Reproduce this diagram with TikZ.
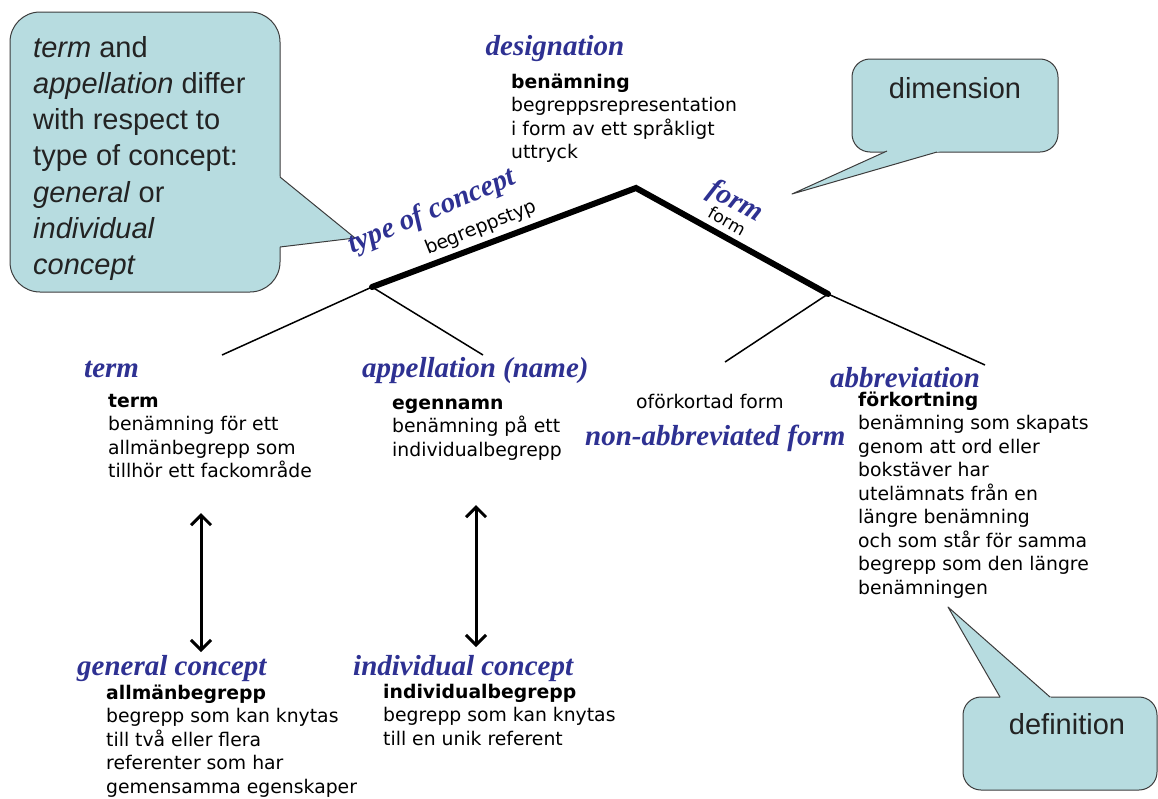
\documentclass[tikz,border=0pt]{standalone}
\usepackage{fontspec}
\usetikzlibrary{arrows.meta}
\newfontfamily\vfont{DejaVu Sans}
\newfontfamily\tfont{Liberation Serif}
\newfontfamily\afont{Liberation Sans}
\definecolor{tblue}{RGB}{46,49,146}
\definecolor{callfill}{RGB}{183,220,224}
\definecolor{callline}{RGB}{60,60,60}
\definecolor{calltxt}{RGB}{35,35,35}
\newcommand{\blk}[1]{\begin{tabular}[t]{@{}l@{}}#1\end{tabular}}
\tikzset{
  title/.style={font=\tfont\bfseries\itshape\fontsize{29}{31}\selectfont, text=tblue, inner sep=0},
  body/.style={font=\vfont\fontsize{18.8}{23.5}\selectfont, inner sep=0, anchor=base west},
  calltext/.style={font=\afont\fontsize{29}{36.3}\selectfont, text=calltxt, inner sep=0},
  callout/.style={fill=callfill, draw=callline, line width=1pt},
  callfillonly/.style={fill=callfill},
  callptr/.style={draw=callline, line width=1pt, line join=round},
  thickline/.style={line width=6pt, line cap=round, line join=miter},
  thinline/.style={line width=1.5pt},
  dblarrow/.style={line width=3pt, {Straight Barb[length=10pt,width=20pt,line width=3pt]}-{Straight Barb[length=10pt,width=20pt,line width=3pt]}},
}
\begin{document}
\begin{tikzpicture}[x=1pt,y=-1pt]
\useasboundingbox (0,0) rectangle (1158,798);

% ---- callouts ----
\draw[callout, rounded corners=30pt] (10,12) rectangle (280,292);
\fill[callfillonly] (270,168.9) -- (355,238) -- (270,248.2) -- cycle;
\draw[callptr] (280,177) -- (355,238) -- (280,247);
\node[calltext, anchor=base west] (c1) at (33,57) {\blk{\textit{term} and\\ \textit{appellation} differ\\ with respect to\\ type of concept:\\ \textit{general} or\\ \textit{individual}\\ \textit{concept}}};

\draw[callout, rounded corners=18pt] (852,59) rectangle (1058,152);
\fill[callfillonly] (896.5,146.7) -- (792,194) -- (951.5,147.8) -- cycle;
\draw[callptr] (887,151) -- (792,194) -- (937,152);
\node[calltext, anchor=base] (c2) at (955,98) {dimension};

\draw[callout, rounded corners=18pt] (963,697) rectangle (1157,790);
\fill[callfillonly] (1004.2,704.2) -- (948,607) -- (1058.2,704.2) -- cycle;
\draw[callptr] (1000,697) -- (948,607) -- (1050,697);
\node[calltext, anchor=base] (c3) at (1067,734) {definition};

% ---- tree ----
\coordinate (A) at (372,287);
\coordinate (T) at (636,188);
\coordinate (F) at (828,294);
\coordinate (L1) at (222,355);
\coordinate (L2) at (483,355);
\coordinate (R1) at (725,362);
\coordinate (R2) at (985,365);
\draw[thinline] (L1) -- (A) -- (L2);
\draw[thinline] (R1) -- (F) -- (R2);
\draw[thickline] (A) -- (T) -- (F);

% ---- arrows ----
\coordinate (a1t) at (201,513);
\coordinate (a1b) at (201,652);
\coordinate (a2t) at (476,505);
\coordinate (a2b) at (476,647);
\draw[dblarrow] (a1t) -- (a1b);
\draw[dblarrow] (a2t) -- (a2b);

% ---- designation ----
\node[title, anchor=base] (des) at (555,55) {designation};
\node[body] (desb) at (511,88) {\blk{\textbf{benämning}\\ begreppsrepresentation\\ i form av ett språkligt\\ uttryck}};

% ---- rotated labels ----
\node[title, rotate=23] (toc) at (432,212) {type of concept};
\node[font=\vfont\fontsize{18.8}{23.5}\selectfont, inner sep=0, rotate=22] (bt) at (481,228) {begreppstyp};
\node[title, rotate=-28] (fm) at (735,202) {form};
\node[font=\vfont\fontsize{17}{20}\selectfont, inner sep=0, rotate=-29] (fmb) at (727,221) {form};

% ---- term ----
\node[title, anchor=base west] (term) at (84,377) {term};
\node[body] (termb) at (108,407) {\blk{\textbf{term}\\ benämning för ett\\ allmänbegrepp som\\ tillhör ett fackområde}};

% ---- appellation ----
\node[title, anchor=base west] (app) at (362,377) {appellation (name)};
\node[body] (appb) at (392,409) {\blk{\textbf{egennamn}\\ benämning på ett\\ individualbegrepp}};

% ---- non-abbreviated ----
\node[body] (ofk) at (636,408) {oförkortad form};
\node[title, anchor=base west] (nab) at (585,445) {non-abbreviated form};

% ---- abbreviation ----
\node[title, anchor=base west] (abb) at (830,387) {abbreviation};
\node[body] (abbb) at (858,406) {\blk{\textbf{förkortning}\\ benämning som skapats\\ genom att ord eller\\ bokstäver har\\ utelämnats från en\\ längre benämning\\ och som står för samma\\ begrepp som den längre\\ benämningen}};

% ---- general concept ----
\node[title, anchor=base west] (gen) at (77,675) {general concept};
\node[body] (genb) at (106,699) {\blk{\textbf{allmänbegrepp}\\ begrepp som kan knytas\\ till två eller flera\\ referenter som har\\ gemensamma egenskaper}};

% ---- individual concept ----
\node[title, anchor=base west] (ind) at (353,675) {individual concept};
\node[body] (indb) at (383,698) {\blk{\textbf{individualbegrepp}\\ begrepp som kan knytas\\ till en unik referent}};
\end{tikzpicture}
\end{document}
